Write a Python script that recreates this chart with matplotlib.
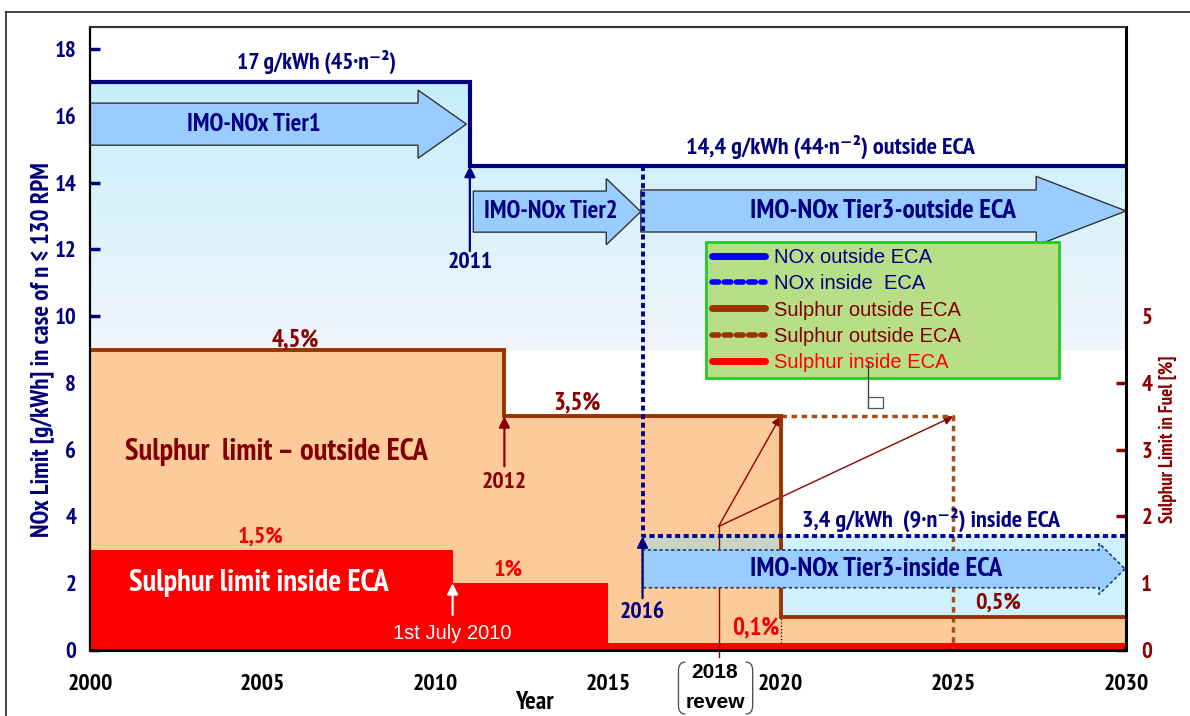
import matplotlib
matplotlib.use("Agg")
import matplotlib.pyplot as plt
import numpy as np
from matplotlib import font_manager
from matplotlib.colors import LinearSegmentedColormap
from matplotlib.patches import Polygon, FancyArrow, Rectangle, PathPatch
from matplotlib.path import Path
from matplotlib.lines import Line2D


# narrow sans with a real bold face if there is one, else the plain one
def _weights(name):
    out = set()
    for f in font_manager.fontManager.ttflist:
        if f.name == name and f.style == 'normal':
            w = f.weight
            if isinstance(w, str):
                w = 700 if 'bold' in w else 400
            out.add(int(w))
    return out


_cands = ['Liberation Sans Narrow', 'Arial Narrow', 'PT Sans Narrow', 'Archivo Narrow',
          'Roboto Condensed', 'Fira Sans Condensed', 'IBM Plex Sans Condensed',
          'Open Sans Condensed']
NARROW = next((n for n in _cands if {400, 700} <= _weights(n)), 'Liberation Sans')
plt.rcParams['font.family'] = [NARROW, 'Liberation Sans', 'DejaVu Sans']
PLAIN = ['Liberation Sans', 'DejaVu Sans']

# NOx limits [g/kWh], n <= 130 rpm
years_nox_out = [2000, 2011, 2030]
nox_out = [17.0, 14.5, 14.5]
year_nox_in = 2016
nox_in = 3.4

# sulphur limits in fuel [%]
years_s_out = [2000, 2012, 2020, 2030]
s_out = [4.5, 3.5, 0.5, 0.5]
years_s_alt = [2020, 2025]
s_alt = 3.5
years_s_in = [2000, 2010.5, 2015, 2030]
s_in = [1.5, 1.0, 0.1, 0.1]
review_year = 2018.2

PCT_TO_NOX = 2.0   # 1 % sulphur drawn at 2 g/kWh on the left scale

NAVY = '#000080'
DRED = '#8b0000'
BROWN = '#993300'


def steps(x, y):
    xs, ys = [], []
    for i in range(len(x) - 1):
        xs += [x[i], x[i + 1]]
        ys += [y[i], y[i]]
    return np.array(xs, float), np.array(ys, float)


fig = plt.figure(figsize=(11.9, 7.16), dpi=100)
ax = fig.add_axes([90 / 1190, 1 - 650 / 716, 1036 / 1190, 623 / 716])
ax.set_xlim(2000, 2030)
ax.set_ylim(0, 18.66)

s_out_l = np.array(s_out) * PCT_TO_NOX
s_in_l = np.array(s_in) * PCT_TO_NOX

# light blue gradient under NOx outside line
nx, ny = steps(years_nox_out, nox_out)
base = s_out_l.max()
poly = Polygon(np.column_stack([np.r_[nx, nx[-1], nx[0]], np.r_[ny, base, base]]),
               closed=True, transform=ax.transData, facecolor='none', edgecolor='none')
ax.add_patch(poly)
grad = np.linspace(0, 1, 256).reshape(-1, 1)
cmap = LinearSegmentedColormap.from_list('nox', ['#f1f5fb', '#c6effc'])
im = ax.imshow(grad, extent=[years_nox_out[0], years_nox_out[-1], base, max(nox_out)],
               origin='lower', aspect='auto', cmap=cmap, zorder=1)
im.set_clip_path(poly)

# light blue band under NOx inside ECA
ax.fill_between([year_nox_in, years_s_out[-1]], s_out_l[-1], nox_in,
                color='#cdf2fc', zorder=1.5, lw=0)

# sulphur outside ECA (peach) and inside ECA (red)
sx, sy = steps(years_s_out, s_out_l)
ax.fill_between(sx, 0, sy, color='#fdca99', zorder=2, lw=0)
rx, ry = steps(years_s_in, s_in_l)
ax.fill_between(rx, 0, ry, color='#ff0000', zorder=3, lw=0)

# big block arrows: label, start, end, y centre, body width, head width, head length
tiers = [
    ("IMO-NOx Tier1", 2000.0, 2010.9, 15.75, 1.26, 2.04, 1.4),
    ("IMO-NOx Tier2", 2011.1, 2015.95, 13.13, 1.23, 1.98, 1.0),
    ("IMO-NOx Tier3-outside ECA", 2015.95, 2030.0, 13.15, 1.26, 2.07, 2.6),
]
tier_text = [(2004.75, 18), (2013.35, 18), (2022.95, 19.5)]
for (lab, x0, x1, yc, w, hw, hl), (tx, fs) in zip(tiers, tier_text):
    ax.add_patch(FancyArrow(x0, yc, x1 - x0, 0, width=w, head_width=hw, head_length=hl,
                            length_includes_head=True, facecolor='#99ccff',
                            edgecolor='#333333', lw=1, zorder=5))
    ax.text(tx, yc, lab, ha='center', va='center', fontsize=fs, fontweight='bold',
            color=NAVY, zorder=8)

x0, x1, yc, w, hw, hl = (2016.0, 2029.97, 2.43, 1.13, 1.53, 0.75)
ax.add_patch(FancyArrow(x0, yc, x1 - x0, 0, width=w, head_width=hw, head_length=hl,
                        length_includes_head=True, facecolor='#99ccff',
                        edgecolor='#1f3f6f', lw=1.2, linestyle=(0, (2, 1.5)), zorder=5))
ax.text(2022.75, yc, "IMO-NOx Tier3-inside ECA", ha='center', va='center', fontsize=19.5,
        fontweight='bold', color=NAVY, zorder=8)

# grey strip where the inside band overlaps the peach area
ax.fill_between([year_nox_in, years_s_out[2]], yc + w / 2, nox_in,
                color='#c9d4c1', zorder=3.5, lw=0)

# review lines 2018
tip = 3.7
ax.plot([review_year, review_year], [-0.2, tip], color=DRED, lw=1, zorder=4, clip_on=False)
for xe in years_s_alt:
    ax.annotate('', xy=(xe, s_alt * PCT_TO_NOX), xytext=(review_year, tip),
                arrowprops=dict(arrowstyle='-|>', color=DRED, lw=1, mutation_scale=14,
                                shrinkA=0, shrinkB=0), zorder=4)

# sulphur alternative (dashed)
ax.plot([years_s_alt[0], years_s_alt[1], years_s_alt[1]],
        [s_alt * PCT_TO_NOX, s_alt * PCT_TO_NOX, 0],
        color='#a0501a', lw=2.5, linestyle=(0, (1.6, 1.3)), zorder=4)

# sulphur outside line
ax.plot(sx, sy, color=BROWN, lw=2.8, zorder=4.5, solid_joinstyle='miter')
ax.plot([years_s_out[2], years_s_out[2]], [s_in_l[-1], s_out_l[2]], color='k', lw=0.9,
        linestyle=':', zorder=4.5)

# NOx lines
ax.plot(nx, ny, color=NAVY, lw=3, zorder=7, solid_joinstyle='miter')
ax.plot([year_nox_in, year_nox_in, years_nox_out[-1]], [nox_out[-1], nox_in, nox_in],
        color='#000099', lw=2.8, linestyle=(0, (1.3, 0.9)), zorder=7)

# small arrows with years
small = [
    ("2011", years_nox_out[1], 11.95, nox_out[1], 11.6, NAVY, 'bold', 17),
    ("2012", years_s_out[1], 5.5, s_out_l[1], 5.03, DRED, 'bold', 17),
    ("2016", year_nox_in, 1.55, nox_in, 1.12, NAVY, 'bold', 17),
]
for lab, xa, y0, y1, yt, col, fw, fs in small:
    ax.annotate('', xy=(xa, y1), xytext=(xa, y0),
                arrowprops=dict(arrowstyle='-|>', color=col, lw=1.6, mutation_scale=16,
                                shrinkA=0, shrinkB=0), zorder=8)
    ax.text(xa, yt, lab, ha='center', va='center', color=col, fontweight=fw, fontsize=fs,
            zorder=8)
ax.annotate('', xy=(years_s_in[1], s_in_l[1]), xytext=(years_s_in[1], 1.05),
            arrowprops=dict(arrowstyle='-|>', color='white', lw=1.6, mutation_scale=16,
                            shrinkA=0, shrinkB=0), zorder=8)
ax.text(years_s_in[1], 0.5, "1st July 2010", ha='center', va='center', color='white',
        fontsize=14.5, family=PLAIN, zorder=8)

# value labels
ax.text(2006.55, 17.6, "17 g/kWh (45·n⁻²)", ha='center', va='center', fontsize=17,
        fontweight='bold', color=NAVY, zorder=8)
ax.text(2021.45, 15.06, "14,4 g/kWh (44·n⁻²) outside ECA", ha='center', va='center',
        fontsize=17.5, fontweight='bold', color=NAVY, zorder=8)
ax.text(2024.35, 3.9, "3,4 g/kWh  (9·n⁻²) inside ECA", ha='center', va='center',
        fontsize=17.5, fontweight='bold', color=NAVY, zorder=8)
ax.text(2005.95, 9.3, "4,5%", ha='center', va='center', fontsize=18, fontweight='bold',
        color=DRED, zorder=8)
ax.text(2014.1, 7.4, "3,5%", ha='center', va='center', fontsize=18, fontweight='bold',
        color=DRED, zorder=8)
ax.text(2026.3, 1.41, "0,5%", ha='center', va='center', fontsize=17.5, fontweight='bold',
        color=DRED, zorder=8)
ax.text(2004.95, 3.38, "1,5%", ha='center', va='center', fontsize=17.5, fontweight='bold',
        color='#ee0000', zorder=8)
ax.text(2012.1, 2.4, "1%", ha='center', va='center', fontsize=17.5, fontweight='bold',
        color='#ee0000', zorder=8)
ax.text(2019.28, 0.66, "0,1%", ha='center', va='center', fontsize=18, fontweight='bold',
        color='#ee0000', zorder=8)
ax.text(2005.4, 5.93, "Sulphur  limit – outside ECA", ha='center', va='center',
        fontsize=22, fontweight='bold', color='#800000', zorder=8)
ax.text(2004.9, 2.0, "Sulphur limit inside ECA", ha='center', va='center',
        fontsize=22, fontweight='bold', color='white', zorder=8)

# "2018 review" under the axis, between brackets
ax.text(review_year - 0.1, -0.68, "2018", ha='center', va='center', fontsize=15,
        fontweight='bold', family=PLAIN, clip_on=False)
ax.text(review_year - 0.1, -1.58, "revew", ha='center', va='center', fontsize=15,
        fontweight='bold', family=PLAIN, clip_on=False)
for xe, xc in [(2017.24, 2017.04), (2018.99, 2019.19)]:
    bracket = Path([(xe, -0.36), (xc, -0.36), (xc, -0.62), (xc, -1.66), (xc, -1.92),
                    (xe, -1.92)],
                   [Path.MOVETO, Path.CURVE3, Path.CURVE3, Path.LINETO, Path.CURVE3,
                    Path.CURVE3])
    ax.add_patch(PathPatch(bracket, facecolor='none', edgecolor='#555555', lw=1,
                           clip_on=False))

# axes styling
for side in ['left', 'bottom', 'right']:
    ax.spines[side].set_color('black')
ax.spines['left'].set_linewidth(1.6)
ax.spines['bottom'].set_linewidth(2.2)
ax.spines['right'].set_linewidth(2.2)
ax.spines['top'].set_color('#333333')
ax.spines['top'].set_linewidth(1.5)
for sp in ax.spines.values():
    sp.set_zorder(9)

ax.set_xticks([2000, 2005, 2010, 2015, 2020, 2025, 2030])
ax.tick_params(axis='x', direction='in', length=8, width=2, color='black', pad=17,
               labelsize=17)
for t in ax.get_xticklabels():
    t.set_fontweight('bold')
ax.set_yticks(range(0, 19, 2))
ax.tick_params(axis='y', direction='in', length=7, width=2.5, color=NAVY, labelcolor=NAVY,
               pad=10, labelsize=16.5)
for t in ax.get_yticklabels():
    t.set_fontweight('bold')
ax.set_xlabel("Year", fontsize=18, fontweight='bold')
ax.xaxis.set_label_coords(0.4286, -0.066)
ax.set_ylabel("NOx Limit [g/kWh] in case of n ≤ 130 RPM", fontsize=18,
              fontweight='bold', color=NAVY)
ax.yaxis.set_label_coords((42 - 90) / 1036, (650 - 350) / 623)
ax.yaxis.label.set_verticalalignment('center')

sec = ax.secondary_yaxis('right', functions=(lambda y: y / PCT_TO_NOX,
                                             lambda y: y * PCT_TO_NOX))
sec.set_yticks(range(0, 6))
sec.tick_params(direction='in', length=7, width=2.5, color=DRED, labelcolor=DRED,
                pad=11, labelsize=16.5)
for t in sec.get_yticklabels():
    t.set_fontweight('bold')
sec.spines['right'].set_visible(False)
ax.text((1168 - 90) / 1036, (650 - 439) / 623, "Sulphur Limit in Fuel [%]",
        transform=ax.transAxes, rotation=90, ha='center', va='center', fontsize=13.5,
        fontweight='bold', color=DRED)

# legend
handles = [
    Line2D([], [], color='#0000ff', lw=5, solid_capstyle='round'),
    Line2D([], [], color='#0000ff', lw=4, linestyle=(0, (1.2, 1.0)), dash_capstyle='round'),
    Line2D([], [], color=BROWN, lw=5, solid_capstyle='round'),
    Line2D([], [], color=BROWN, lw=4, linestyle=(0, (1.2, 1.0)), dash_capstyle='round'),
    Line2D([], [], color='#ff0000', lw=5, solid_capstyle='round'),
]
labels = ["NOx outside ECA", "NOx inside  ECA", "Sulphur outside ECA",
          "Sulphur outside ECA", "Sulphur inside ECA"]
leg = ax.legend(handles, labels, loc='upper left',
                bbox_to_anchor=(706 / 1190, 1 - 397 / 716, 353 / 1190, 155 / 716),
                bbox_transform=fig.transFigure, mode='expand', borderaxespad=0,
                prop={'family': PLAIN, 'size': 14.5}, handlelength=2.65,
                handletextpad=0.45, labelspacing=0.36, borderpad=0.3, fancybox=False,
                framealpha=1)
leg.get_frame().set_facecolor('#b8df88')
leg.get_frame().set_edgecolor('#22cc22')
leg.get_frame().set_linewidth(2)
leg.set_zorder(10)
for t, c in zip(leg.get_texts(), [NAVY, NAVY, '#800000', '#800000', '#ff0000']):
    t.set_color(c)

# stray callout marker below legend
fig.add_artist(Line2D([868 / 1190, 868 / 1190], [1 - 362 / 716, 1 - 408 / 716],
                      color='#333333', lw=0.9, zorder=11))
fig.add_artist(Rectangle((868 / 1190, 1 - 408 / 716), 15 / 1190, 11 / 716,
                         facecolor='none', edgecolor='#555555', lw=0.9, zorder=11))

# outer frame
fig.add_artist(Line2D([6 / 1190, 1], [1 - 12 / 716, 1 - 12 / 716], color='#222222', lw=1.2))
fig.add_artist(Line2D([6 / 1190, 6 / 1190], [0, 1 - 12 / 716], color='#222222', lw=1.2))

fig.savefig("out.png", dpi=100)
